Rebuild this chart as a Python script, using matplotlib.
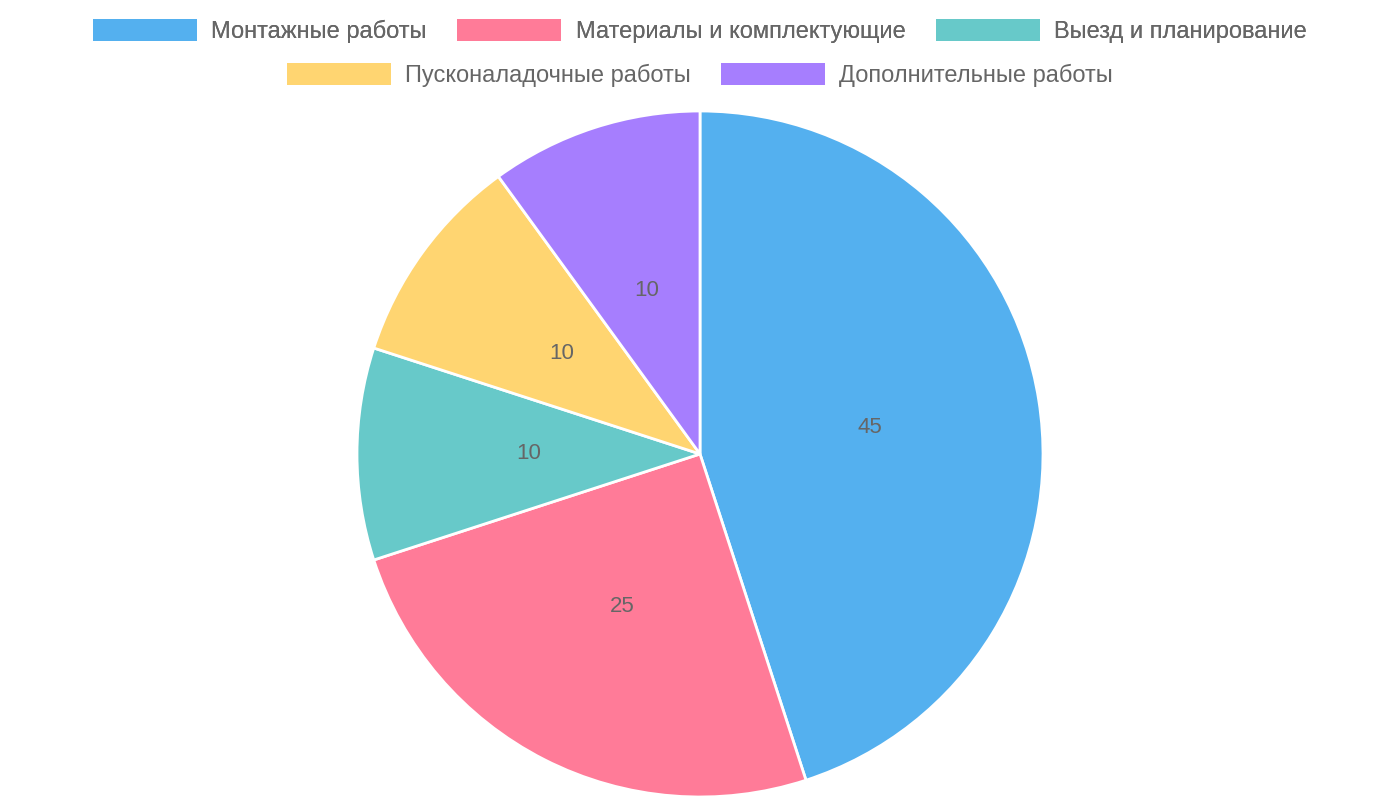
import matplotlib.pyplot as plt
from matplotlib.patches import Patch

plt.rcParams["font.family"] = ["Liberation Sans", "DejaVu Sans"]

labels = ["Монтажные работы", "Материалы и комплектующие", "Выезд и планирование",
          "Пусконаладочные работы", "Дополнительные работы"]
values = [45, 25, 10, 10, 10]
colors = ["#54b0ef", "#ff7b98", "#67c9c9", "#ffd571", "#a67efe"]
TEXT = "#666666"

fig = plt.figure(figsize=(14, 8), dpi=100)
ax = fig.add_axes([(700 - 343) / 1400, 3 / 800, 686 / 1400, 686 / 800])

ax.pie(values, colors=colors, startangle=90, counterclock=False,
       labels=[str(v) for v in values], labeldistance=0.5,
       textprops={"color": TEXT, "fontsize": 16, "ha": "center", "va": "center"},
       wedgeprops={"edgecolor": "white", "linewidth": 2})
ax.set_xlim(-1, 1)
ax.set_ylim(-1, 1)
ax.set_aspect("equal")
ax.axis("off")

handles = [Patch(facecolor=c, edgecolor="none") for c in colors]
common = dict(frameon=False, fontsize=17, labelcolor=TEXT, handlelength=4.4,
              handleheight=1.1, handletextpad=0.6, columnspacing=1.3, loc="center")
leg1 = fig.legend(handles[:3], labels[:3], ncol=3, bbox_to_anchor=(0.5, 1 - 31 / 800), **common)
fig.add_artist(leg1)
fig.legend(handles[3:], labels[3:], ncol=2, bbox_to_anchor=(0.5, 1 - 75 / 800), **common)

fig.savefig("out.png", dpi=100)
